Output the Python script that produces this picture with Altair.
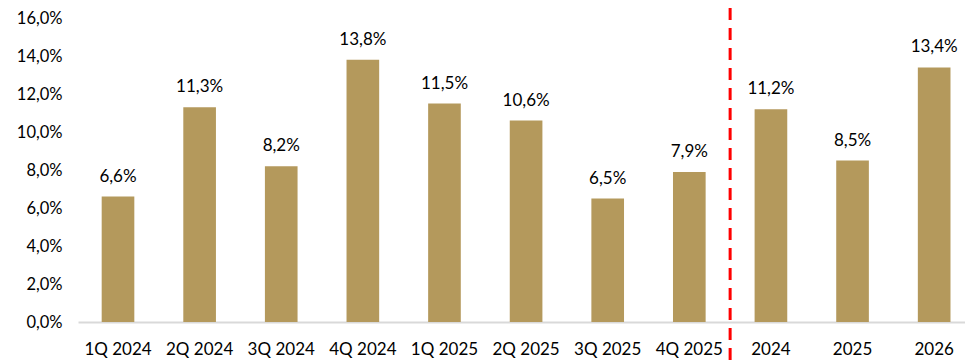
import altair as alt
import pandas as pd

categories = ["1Q 2024", "2Q 2024", "3Q 2024", "4Q 2024", "1Q 2025", "2Q 2025",
              "3Q 2025", "4Q 2025", "2024", "2025", "2026"]
values = [6.6, 11.3, 8.2, 13.8, 11.5, 10.6, 6.5, 7.9, 11.2, 8.5, 13.4]
y_ticks = [0, 2, 4, 6, 8, 10, 12, 14, 16]
divider_after = ["4Q 2025"]

df = pd.DataFrame({
    "cat": categories,
    "val": [v / 100 for v in values],
    "label": [f"{v:.1f}%".replace(".", ",") for v in values],
})

FONT = "Lato"
FS = 17
W, H = 887, 304
P_IN, P_OUT, ALIGN = 0.6, 0.234, 0.62
step = W / (len(categories) - P_IN + 2 * P_OUT)

x_axis = alt.Axis(title=None, labelAngle=0, labelFont=FONT, labelFontSize=FS,
                  labelColor="#000000", labelPadding=19, ticks=False,
                  domainColor="#D9D9D9", domainWidth=2)
x_scale = alt.Scale(paddingInner=P_IN, paddingOuter=P_OUT, align=ALIGN)
y_axis = alt.Axis(title=None, values=[t / 100 for t in y_ticks],
                  labelExpr="replace(format(datum.value, '.1%'), '.', ',')",
                  labelFont=FONT, labelFontSize=16.5, labelColor="#000000",
                  labelPadding=16, ticks=False, domain=False, grid=False,
                  labelOverlap=False, labelFlush=False, labelBound=False)
y_scale = alt.Scale(domain=[0, 0.16], nice=False)

base = alt.Chart(df)
bars = base.mark_bar(color="#B4995C").encode(
    x=alt.X("cat:N", sort=categories, scale=x_scale, axis=x_axis),
    y=alt.Y("val:Q", scale=y_scale, axis=y_axis))
texts = base.mark_text(baseline="alphabetic", dy=-15, font=FONT, fontSize=FS,
                       color="#000000").encode(
    x=alt.X("cat:N", sort=categories, scale=x_scale, axis=x_axis),
    y=alt.Y("val:Q", scale=y_scale, axis=y_axis),
    text="label:N")

div_df = pd.DataFrame({"cat": divider_after})
divider = alt.Chart(div_df).mark_rule(color="#FF0000", strokeWidth=3,
                                      strokeDash=[12, 8],
                                      xOffset=step * P_IN / 2).encode(
    x=alt.X("cat:N", sort=categories, bandPosition=1, scale=x_scale, axis=x_axis),
    y=alt.value(-10), y2=alt.value(H + 42))

chart = alt.layer(bars, texts, divider).properties(
    width=W, height=H, background="white",
    autosize=alt.AutoSizeParams(type="none"),
    padding={"left": 70, "top": 10, "right": 0, "bottom": 42},
).configure_view(stroke=None)

chart.save("out.html", embed_options={"renderer": "svg", "actions": False})
